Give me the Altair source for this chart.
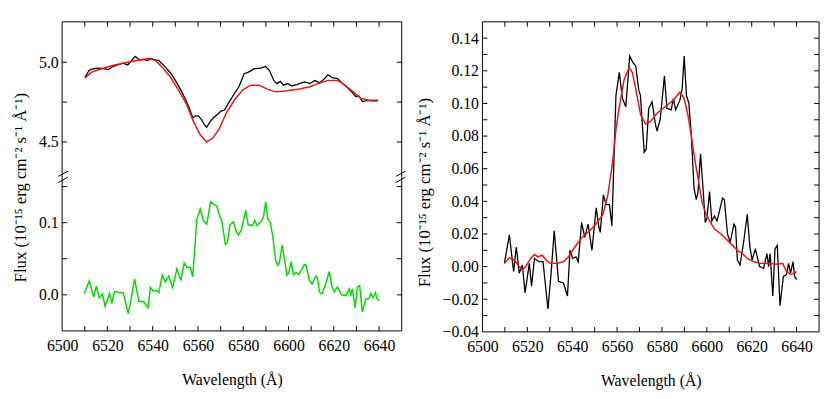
import altair as alt
import pandas as pd

# ---------------- data ----------------
# observed spectrum (black, left top panel)
wl_obs = [6510.1, 6511.9, 6513.8, 6515.9, 6518.8, 6520.2, 6522.5, 6524.6, 6526.8, 6529.0,
          6530.4, 6532.3, 6534.0, 6536.2, 6537.7, 6539.1, 6540.6, 6542.7, 6543.9, 6545.6,
          6547.8, 6550.0, 6552.2, 6554.3, 6556.2, 6557.7, 6558.8, 6560.1, 6561.6, 6562.6,
          6563.8, 6565.2, 6566.7, 6568.8, 6570.3, 6571.7, 6573.9, 6576.1, 6578.2, 6580.4,
          6582.3, 6584.8, 6587.7, 6589.8, 6591.6, 6593.5, 6594.9, 6596.4, 6597.8, 6599.7,
          6601.4, 6603.6, 6605.8, 6607.2, 6609.4, 6611.6, 6613.8, 6615.9, 6617.4, 6619.6,
          6621.7, 6623.9, 6626.1, 6628.2, 6629.7, 6631.1, 6632.6, 6634.8, 6637.0, 6639.6]
flux_obs = [4.907, 4.948, 4.959, 4.963, 4.959, 4.953, 4.973, 4.983, 4.994, 4.983,
            5.006, 5.037, 5.016, 5.016, 5.010, 5.024, 5.016, 5.010, 4.994, 4.969,
            4.934, 4.886, 4.831, 4.773, 4.712, 4.650, 4.664, 4.664, 4.640, 4.613,
            4.592, 4.623, 4.650, 4.675, 4.695, 4.700, 4.753, 4.804, 4.849, 4.928,
            4.938, 4.959, 4.963, 4.973, 4.948, 4.886, 4.866, 4.880, 4.856, 4.866,
            4.851, 4.860, 4.870, 4.876, 4.866, 4.886, 4.870, 4.897, 4.921, 4.901,
            4.897, 4.866, 4.839, 4.810, 4.784, 4.788, 4.753, 4.761, 4.757, 4.757]

# model spectrum (red, left top panel)
wl_mod = [6510.1, 6513.0, 6517.4, 6523.2, 6529.0, 6534.8, 6538.4, 6541.3, 6544.2, 6547.8,
          6551.4, 6555.1, 6558.0, 6560.9, 6563.8, 6566.7, 6569.6, 6572.5, 6576.1, 6579.7,
          6583.3, 6587.0, 6590.6, 6594.2, 6598.5, 6604.3, 6609.4, 6613.0, 6617.4, 6621.7,
          6624.6, 6628.2, 6631.9, 6635.5, 6639.6]
flux_mod = [4.901, 4.938, 4.959, 4.983, 5.000, 5.016, 5.024, 5.010, 4.969, 4.907,
            4.825, 4.732, 4.629, 4.547, 4.500, 4.526, 4.588, 4.681, 4.763, 4.825,
            4.856, 4.856, 4.831, 4.814, 4.819, 4.831, 4.846, 4.866, 4.886, 4.886,
            4.860, 4.819, 4.773, 4.761, 4.761]

# difference spectrum (green on the left, black on the right)
wl_diff = [6509.8, 6512.0, 6513.9, 6515.1, 6516.4, 6517.8, 6519.0, 6520.9, 6521.9, 6523.2,
           6525.2, 6527.0, 6529.2, 6530.6, 6532.0, 6533.9, 6536.1, 6537.9, 6539.0, 6540.2,
           6541.7, 6542.7, 6544.2, 6545.6, 6547.1, 6548.8, 6550.7, 6551.9, 6552.5, 6553.9,
           6555.1, 6556.6, 6557.7, 6559.5, 6561.0, 6562.4, 6563.9, 6565.6, 6567.1, 6568.3,
           6569.7, 6570.4, 6572.1, 6573.0, 6574.1, 6575.6, 6577.0, 6577.8, 6579.2, 6581.1,
           6582.2, 6584.1, 6585.1, 6586.1, 6588.0, 6589.0, 6589.9, 6590.9, 6592.0, 6593.1,
           6594.3, 6595.3, 6596.0, 6597.2, 6598.4, 6599.3, 6600.1, 6601.2, 6602.2, 6603.4,
           6604.5, 6605.6, 6607.0, 6607.8, 6609.2, 6610.4, 6612.1, 6612.8, 6613.6, 6614.8,
           6616.5, 6618.0, 6619.2, 6620.2, 6621.6, 6622.6, 6623.5, 6625.3, 6626.8, 6627.5,
           6628.2, 6629.4, 6630.4, 6631.4, 6632.6, 6634.1, 6635.5, 6636.4, 6637.3, 6638.4,
           6639.1, 6640.0]
flux_diff = [0.002, 0.0195, -0.003, 0.012, -0.004, 0.001, -0.016, 0.002, -0.012, 0.005,
             0.003, 0.003, -0.026, -0.004, 0.022, -0.009, -0.010, -0.018, 0.010, 0.005,
             0.006, 0.003, 0.027, 0.018, 0.026, 0.010, 0.036, 0.024, 0.021, 0.044,
             0.038, 0.038, 0.025, 0.105, 0.119, 0.103, 0.098, 0.129, 0.125, 0.123,
             0.108, 0.105, 0.070, 0.072, 0.097, 0.101, 0.088, 0.083, 0.090, 0.117,
             0.097, 0.096, 0.103, 0.096, 0.102, 0.109, 0.129, 0.105, 0.100, 0.080,
             0.048, 0.041, 0.045, 0.069, 0.046, 0.027, 0.030, 0.046, 0.028, 0.031,
             0.028, 0.034, 0.042, 0.041, 0.020, 0.015, 0.026, 0.024, 0.004, 0.001,
             0.016, 0.032, 0.012, 0.004, 0.011, 0.005, 0.000, -0.001, 0.008, 0.000,
             0.008, -0.018, 0.011, 0.013, -0.024, -0.006, -0.005, 0.002, -0.004, 0.003,
             -0.006, -0.008]

# smooth fit to the difference spectrum (red, right panel)
wl_fit = [6509.8, 6512.0, 6514.2, 6516.4, 6517.8, 6519.3, 6521.5, 6523.2, 6524.7, 6526.6,
          6528.8, 6530.3, 6533.2, 6536.1, 6538.3, 6541.2, 6544.2, 6547.8, 6550.5, 6553.7,
          6555.9, 6558.0, 6559.5, 6561.0, 6563.2, 6565.4, 6566.8, 6568.3, 6570.5, 6572.7,
          6574.9, 6577.8, 6581.4, 6585.1, 6588.0, 6589.9, 6591.7, 6593.1, 6594.6, 6596.1,
          6597.8, 6599.2, 6601.2, 6603.4, 6606.3, 6610.0, 6613.6, 6615.8, 6618.0, 6620.9,
          6623.8, 6628.2, 6631.1, 6633.8, 6635.5, 6637.3, 6638.4, 6640.0]
flux_fit = [0.002, 0.0054, 0.004, 0.000, -0.002, 0.000, 0.005, 0.0075, 0.006, 0.007,
            0.0034, 0.002, 0.002, 0.003, 0.006, 0.012, 0.0175, 0.022, 0.026, 0.032,
            0.044, 0.064, 0.084, 0.098, 0.115, 0.122, 0.119, 0.109, 0.093, 0.0874,
            0.089, 0.094, 0.098, 0.102, 0.107, 0.103, 0.092, 0.080, 0.066, 0.054,
            0.040, 0.034, 0.028, 0.023, 0.020, 0.015, 0.010, 0.008, 0.005, 0.003,
            0.002, 0.002, 0.0014, 0.002, -0.003, -0.0047, -0.0043, -0.003]

# axis tick values
x_labels = [6500, 6520, 6540, 6560, 6580, 6600, 6620, 6640]
x_ticks = [6510, 6520, 6530, 6540, 6550, 6560, 6570, 6580, 6590, 6600, 6610, 6620, 6630, 6640]
top_labels = [4.5, 5.0]
top_ticks = [4.5, 4.75, 5.0]
bot_labels = [0.0, 0.1]
bot_ticks = [0.0, 0.05, 0.1, 0.15]
right_labels = [-0.04, -0.02, 0.0, 0.02, 0.04, 0.06, 0.08, 0.10, 0.12, 0.14]
right_ticks = [-0.03, -0.02, -0.01, 0.0, 0.01, 0.02, 0.03, 0.04, 0.05, 0.06, 0.07,
               0.08, 0.09, 0.10, 0.11, 0.12, 0.13, 0.14]

# ---------------- styling ----------------
FONT = "Liberation Serif"
RED = "#f01414"
GREEN = "#00dd00"
Y_TITLE = "Flux (10\u207b\u00b9\u2075 erg cm\u207b\u00b2 s\u207b\u00b9 \u00c5\u207b\u00b9)"
X_TITLE = "Wavelength (\u00c5)"
W_L, W_R = 345, 342
H_T, H_B, H_R = 158, 156, 315
TK = 5

xs = alt.Scale(domain=[6500, 6650], nice=False, zero=False)
ys_top = alt.Scale(domain=[4.278, 5.253], nice=False, zero=False)
ys_bot = alt.Scale(domain=[-0.05, 0.1628], nice=False, zero=False)
ys_right = alt.Scale(domain=[-0.04, 0.15], nice=False, zero=False)

df_obs = pd.DataFrame({"wl": wl_obs, "flux": flux_obs})
df_mod = pd.DataFrame({"wl": wl_mod, "flux": flux_mod})
df_diff = pd.DataFrame({"wl": wl_diff, "flux": flux_diff})
df_fit = pd.DataFrame({"wl": wl_fit, "flux": flux_fit})
one = pd.DataFrame({"k": [0]})


def x_axis():
    return alt.Axis(values=x_labels, format="d", grid=False, ticks=False, domain=False,
                    labelOverlap=False, labelFlush=False,
                    labelFont=FONT, labelFontSize=16, labelColor="black", labelPadding=7,
                    title=X_TITLE, titleFont=FONT, titleFontSize=16, titleFontWeight="normal",
                    titleColor="black", titlePadding=18)


def y_axis(values, fmt, title, title_y=None):
    kw = dict(values=values, format=fmt, grid=False, ticks=False, domain=False,
              labelOverlap=False, labelFlush=False, tickCount=len(values),
              labelFont=FONT, labelFontSize=16, labelColor="black", labelPadding=4)
    if title:
        kw.update(title=title, titleFont=FONT, titleFontSize=17, titleFontWeight="normal",
                  titleColor="black", titlePadding=9, titleY=title_y)
    else:
        kw.update(title=None)
    return alt.Axis(**kw)


class Panel:
    """Holds the shared scales/axes of one panel so every layer uses identical encodings."""

    def __init__(self, ys, yax, xax, W, H):
        self.ys, self.yax, self.xax, self.W, self.H = ys, yax, xax, W, H

    def X(self, field):
        return alt.X(field, scale=xs, axis=self.xax, title=None if self.xax is None else X_TITLE)

    def Y(self, field):
        return alt.Y(field, scale=self.ys, axis=self.yax)

    def line(self, df, color, width):
        return alt.Chart(df).mark_line(color=color, strokeWidth=width, clip=True).encode(
            x=self.X("wl:Q"), y=self.Y("flux:Q"))

    def yticks(self, vals):
        d = pd.DataFrame({"flux": vals})
        return [
            alt.Chart(d).mark_rule(color="black", strokeWidth=1).encode(
                y=self.Y("flux:Q"), x=alt.value(0), x2=alt.value(TK)),
            alt.Chart(d).mark_rule(color="black", strokeWidth=1).encode(
                y=self.Y("flux:Q"), x=alt.value(self.W - TK), x2=alt.value(self.W)),
        ]

    def xticks(self, top=True, bottom=True):
        d = pd.DataFrame({"wl": x_ticks})
        out = []
        if top:
            out.append(alt.Chart(d).mark_rule(color="black", strokeWidth=1).encode(
                x=self.X("wl:Q"), y=alt.value(0), y2=alt.value(TK)))
        if bottom:
            out.append(alt.Chart(d).mark_rule(color="black", strokeWidth=1).encode(
                x=self.X("wl:Q"), y=alt.value(self.H - TK), y2=alt.value(self.H)))
        return out

    def edges(self, top=True, bottom=True):
        W, H = self.W, self.H
        out = [
            alt.Chart(one).mark_rule(color="black", strokeWidth=1).encode(
                x=alt.value(0), y=alt.value(0), y2=alt.value(H)),
            alt.Chart(one).mark_rule(color="black", strokeWidth=1).encode(
                x=alt.value(W), y=alt.value(0), y2=alt.value(H)),
        ]
        if top:
            out.append(alt.Chart(one).mark_rule(color="black", strokeWidth=1).encode(
                x=alt.value(0), x2=alt.value(W), y=alt.value(0)))
        if bottom:
            out.append(alt.Chart(one).mark_rule(color="black", strokeWidth=1).encode(
                x=alt.value(0), x2=alt.value(W), y=alt.value(H)))
        return out


def slash(x0, y0, x1, y1):
    return alt.Chart(one).mark_rule(color="black", strokeWidth=1).encode(
        x=alt.value(x0), y=alt.value(y0), x2=alt.value(x1), y2=alt.value(y1))


# ---- left panel, upper part (observed + model) ----
pt = Panel(ys_top, y_axis(top_labels, ".1f", Y_TITLE, 168), None, W_L, H_T)
top_chart = alt.layer(
    pt.line(df_obs, "black", 1.3),
    pt.line(df_mod, RED, 1.5),
    *pt.yticks(top_ticks),
    *pt.xticks(top=True, bottom=False),
    *pt.edges(top=True, bottom=False),
).properties(width=W_L, height=H_T)

# ---- left panel, lower part (difference) ----
pb = Panel(ys_bot, y_axis(bot_labels, ".1f", None), x_axis(), W_L, H_B)
bot_chart = alt.layer(
    pb.line(df_diff, GREEN, 1.5),
    *pb.yticks(bot_ticks),
    *pb.xticks(top=False, bottom=True),
    *pb.edges(top=False, bottom=True),
    slash(-4, -1, 6, -6.3), slash(-4, 5.3, 6, -0.3),
    slash(W_L - 6, -1, W_L + 4, -6.3), slash(W_L - 6, 5.3, W_L + 4, -0.3),
).properties(width=W_L, height=H_B)

left_block = alt.vconcat(top_chart, bot_chart, spacing=0, bounds="flush")

# ---- right panel ----
pr = Panel(ys_right, y_axis(right_labels, ".2f", Y_TITLE, 173), x_axis(), W_R, H_R)
right_chart = alt.layer(
    pr.line(df_diff, "black", 1.3),
    pr.line(df_fit, RED, 1.5),
    *pr.yticks(right_ticks),
    *pr.xticks(),
    *pr.edges(),
).properties(width=W_R, height=H_R)

chart = alt.hconcat(left_block, right_chart, spacing=8).properties(
    padding={"left": 4, "top": 10, "right": 2, "bottom": 2}
).configure(
    font=FONT, background="white",
    view=alt.ViewConfig(stroke="transparent", strokeWidth=0),
)

chart.save("out.html", embed_options={"renderer": "svg", "actions": False})
